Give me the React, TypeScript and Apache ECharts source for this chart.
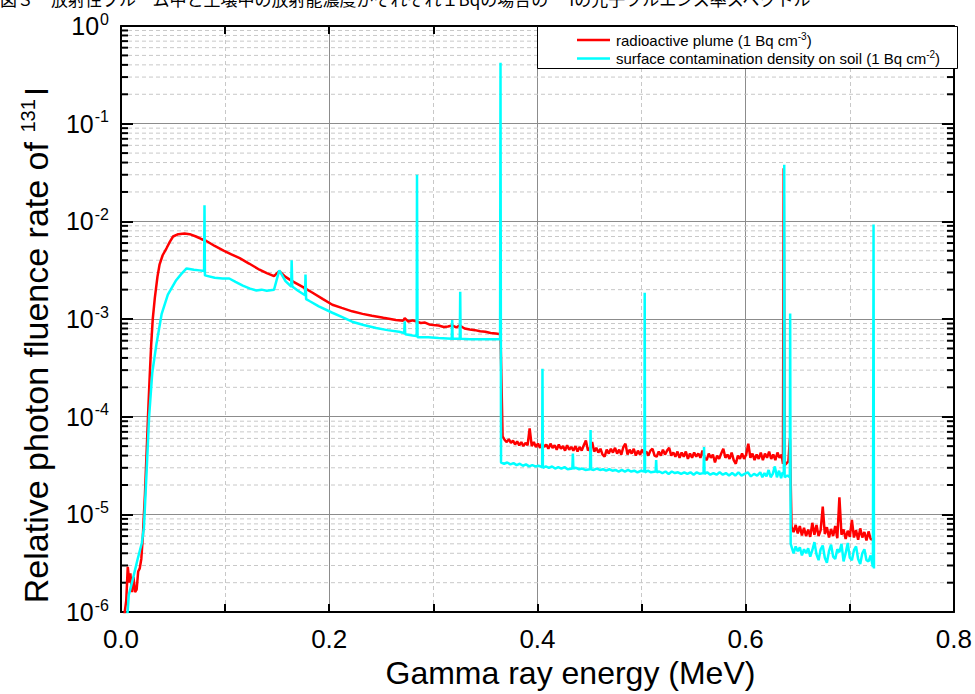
import React, { useEffect, useRef } from 'react';
import * as echarts from 'echarts';

// ---- axis / tick definitions ----
const xMin = 0;
const xMax = 0.8;
const xInterval = 0.2;
const yMin = 1e-6;
const yMax = 1;
const minorMultipliers = [2, 3, 4, 5, 6, 7, 8, 9];
const decadeStarts = [1e-6, 1e-5, 1e-4, 1e-3, 1e-2, 1e-1];

// ---- texts ----
const topCaption = '図３　放射性プルーム中と土壌中の放射能濃度がそれぞれ１Bqの場合の¹³¹Iの光子フルエンス率スペクトル';
const xTitle = 'Gamma ray energy (MeV)';
const yTitle = 'Relative photon fluence rate of {s|131}I';
const legendPlume = 'radioactive plume (1 Bq cm{s|-3})';
const legendSoil = 'surface contamination density on soil (1 Bq cm{s|-2})';

// ---- series: radioactive plume (1 Bq cm-3) ----
const plumeData: [number, number][] = [
  [0.003, 9e-7], [0.005, 1.3e-6], [0.0065, 2.9e-6], [0.008, 2.0e-6], [0.009, 2.5e-6],
  [0.0105, 1.6e-6], [0.012, 2.3e-6], [0.0135, 1.6e-6], [0.015, 1.7e-6], [0.0165, 2.6e-6],
  [0.018, 2.8e-6], [0.0195, 3.5e-6], [0.021, 6.0e-6], [0.022, 1.0e-5], [0.023, 1.6e-5],
  [0.024, 3.0e-5], [0.025, 5.5e-5], [0.026, 1.05e-4], [0.0275, 2.5e-4], [0.029, 5.5e-4],
  [0.0305, 1.0e-3], [0.0325, 1.65e-3], [0.035, 2.7e-3], [0.037, 3.6e-3], [0.040, 4.5e-3],
  [0.0437, 5.3e-3], [0.047, 6.2e-3], [0.050, 7.0e-3], [0.055, 7.4e-3], [0.061, 7.5e-3],
  [0.066, 7.4e-3], [0.072, 7.0e-3], [0.077, 6.6e-3], [0.082, 6.3e-3], [0.090, 5.6e-3],
  [0.099, 5.0e-3], [0.106, 4.6e-3], [0.114, 4.2e-3], [0.123, 3.7e-3], [0.133, 3.2e-3],
  [0.140, 2.95e-3], [0.147, 2.75e-3], [0.152, 3.1e-3], [0.158, 2.7e-3], [0.164, 2.46e-3],
  [0.174, 2.15e-3], [0.184, 1.86e-3], [0.194, 1.6e-3], [0.203, 1.4e-3], [0.212, 1.3e-3],
  [0.222, 1.2e-3], [0.232, 1.13e-3], [0.241, 1.08e-3], [0.252, 1.03e-3], [0.264, 9.8e-4],
  [0.271, 9.6e-4], [0.2725, 1.02e-3], [0.276, 9.4e-4], [0.280, 9.7e-4], [0.284, 9.4e-4],
  [0.288, 9.1e-4], [0.292, 9.2e-4], [0.296, 8.8e-4], [0.300, 8.7e-4], [0.305, 8.6e-4],
  [0.310, 8.3e-4], [0.314, 8.4e-4], [0.318, 8.6e-4], [0.322, 8.2e-4], [0.325, 8.6e-4],
  [0.330, 8.0e-4], [0.335, 7.8e-4], [0.340, 7.7e-4], [0.345, 7.5e-4], [0.350, 7.4e-4],
  [0.355, 7.2e-4], [0.360, 7.1e-4], [0.3645, 7.0e-4],
  [0.3665, 6.3e-5], [0.3685, 5.8e-5], [0.3705, 5.5e-5], [0.3725, 5.9e-5], [0.3745, 5.4e-5],
  [0.3765, 5.7e-5], [0.3785, 5.2e-5], [0.3805, 5.6e-5], [0.3825, 5.1e-5], [0.3845, 5.5e-5],
  [0.3865, 5.0e-5], [0.3885, 5.4e-5], [0.3905, 5.1e-5], [0.3925, 7.6e-5], [0.3945, 5.0e-5],
  [0.3965, 5.5e-5], [0.3985, 4.9e-5], [0.4005, 5.3e-5], [0.4025, 4.8e-5], [0.4045, 5.4e-5],
  [0.4065, 4.9e-5], [0.4085, 5.2e-5], [0.4105, 4.7e-5], [0.4125, 5.3e-5], [0.4145, 4.8e-5],
  [0.4165, 5.1e-5], [0.4185, 4.6e-5], [0.4205, 5.2e-5], [0.4225, 4.7e-5], [0.4245, 5.0e-5],
  [0.4265, 4.5e-5], [0.4285, 5.1e-5], [0.4305, 4.6e-5], [0.4325, 4.9e-5], [0.4345, 4.5e-5],
  [0.4365, 5.0e-5], [0.4385, 4.4e-5], [0.4405, 4.9e-5], [0.4425, 4.5e-5], [0.4445, 5.1e-5],
  [0.4465, 5.7e-5], [0.4485, 4.5e-5], [0.4505, 4.8e-5], [0.4525, 5.5e-5], [0.4545, 4.4e-5],
  [0.4565, 4.8e-5], [0.4585, 4.3e-5], [0.4605, 4.7e-5], [0.4625, 4.1e-5], [0.4645, 3.9e-5],
  [0.4665, 4.6e-5], [0.4685, 4.2e-5], [0.4705, 4.7e-5], [0.4725, 4.3e-5], [0.4745, 4.8e-5],
  [0.4765, 4.2e-5], [0.4785, 4.6e-5], [0.4805, 4.1e-5], [0.4825, 4.9e-5], [0.4845, 5.3e-5],
  [0.4865, 4.1e-5], [0.4885, 4.6e-5], [0.4905, 4.2e-5], [0.4925, 4.7e-5], [0.4945, 4.0e-5],
  [0.4965, 4.5e-5], [0.4985, 4.1e-5], [0.5005, 4.6e-5], [0.5025, 4.2e-5], [0.5045, 4.4e-5],
  [0.5065, 4.0e-5], [0.5085, 4.5e-5], [0.5105, 4.7e-5], [0.5125, 4.0e-5], [0.5145, 3.9e-5],
  [0.5165, 4.4e-5], [0.5185, 4.0e-5], [0.5205, 4.6e-5], [0.5225, 4.1e-5], [0.5245, 4.5e-5],
  [0.5265, 4.8e-5], [0.5285, 4.0e-5], [0.5305, 4.3e-5], [0.5325, 3.9e-5], [0.5345, 4.4e-5],
  [0.5365, 3.8e-5], [0.5385, 4.3e-5], [0.5405, 3.9e-5], [0.5425, 4.4e-5], [0.5445, 3.7e-5],
  [0.5465, 4.2e-5], [0.5485, 3.8e-5], [0.5505, 4.3e-5], [0.5525, 3.9e-5], [0.5545, 4.2e-5],
  [0.5565, 3.8e-5], [0.5585, 4.5e-5], [0.5605, 3.8e-5], [0.5625, 3.6e-5], [0.5645, 4.2e-5],
  [0.5665, 3.8e-5], [0.5685, 4.1e-5], [0.5705, 3.4e-5], [0.5725, 4.0e-5], [0.5745, 3.7e-5],
  [0.5765, 4.2e-5], [0.5785, 4.7e-5], [0.5805, 3.8e-5], [0.5825, 4.1e-5], [0.5845, 3.7e-5],
  [0.5865, 4.3e-5], [0.5885, 3.6e-5], [0.5905, 3.3e-5], [0.5925, 4.0e-5], [0.5945, 3.7e-5],
  [0.5965, 4.2e-5], [0.5985, 3.7e-5], [0.6005, 4.1e-5], [0.6025, 5.3e-5], [0.6045, 3.8e-5],
  [0.6065, 4.2e-5], [0.6085, 3.6e-5], [0.6105, 4.1e-5], [0.6125, 3.7e-5], [0.6145, 4.3e-5],
  [0.6165, 3.6e-5], [0.6185, 4.2e-5], [0.6205, 3.8e-5], [0.6225, 4.4e-5], [0.6245, 3.7e-5],
  [0.6265, 4.1e-5], [0.6285, 3.6e-5], [0.6305, 4.3e-5], [0.6325, 3.8e-5], [0.6345, 4.1e-5],
  [0.6358, 3.3e-5], [0.6365, 3.5e-2], [0.6375, 3.2e-5], [0.641, 3.5e-5], [0.6425, 6.0e-5],
  [0.644, 7.5e-6], [0.646, 6.6e-6], [0.648, 7.8e-6], [0.650, 6.4e-6], [0.652, 7.6e-6],
  [0.654, 6.1e-6], [0.656, 7.3e-6], [0.658, 6.0e-6], [0.660, 7.0e-6], [0.662, 5.9e-6],
  [0.664, 8.2e-6], [0.666, 6.2e-6], [0.668, 7.8e-6], [0.670, 6.0e-6], [0.672, 6.9e-6],
  [0.674, 1.2e-5], [0.676, 6.3e-6], [0.678, 7.4e-6], [0.680, 5.8e-6], [0.682, 7.1e-6],
  [0.684, 6.0e-6], [0.686, 7.6e-6], [0.688, 5.7e-6], [0.690, 1.5e-5], [0.692, 6.2e-6],
  [0.694, 7.0e-6], [0.696, 5.6e-6], [0.698, 6.8e-6], [0.700, 5.9e-6], [0.702, 8.8e-6],
  [0.704, 5.8e-6], [0.706, 6.9e-6], [0.708, 5.5e-6], [0.710, 7.2e-6], [0.712, 5.8e-6],
  [0.714, 6.6e-6], [0.716, 5.4e-6], [0.718, 6.7e-6], [0.720, 5.6e-6], [0.7225, 5.5e-6],
];

// ---- series: surface contamination density on soil (1 Bq cm-2) ----
const soilData: [number, number][] = [
  [0.005, 7e-7], [0.006, 9e-7], [0.0075, 1.5e-6], [0.0115, 2.2e-6], [0.016, 3.5e-6],
  [0.020, 5.1e-6], [0.022, 7.3e-6], [0.023, 1.2e-5], [0.025, 3.4e-5], [0.027, 1.0e-4],
  [0.030, 2.8e-4], [0.034, 5.5e-4], [0.039, 1.12e-3], [0.045, 1.78e-3], [0.053, 2.5e-3],
  [0.058, 2.9e-3], [0.063, 3.3e-3], [0.070, 3.2e-3], [0.0755, 3.15e-3], [0.0798, 3.1e-3],
  [0.0802, 1.46e-2], [0.0806, 2.8e-3], [0.090, 2.65e-3], [0.0975, 2.6e-3], [0.104, 2.6e-3],
  [0.110, 2.4e-3], [0.117, 2.2e-3], [0.124, 2.05e-3], [0.130, 1.96e-3], [0.135, 2.0e-3],
  [0.140, 1.95e-3], [0.147, 2.0e-3], [0.152, 3.15e-3], [0.158, 2.45e-3], [0.1635, 2.15e-3],
  [0.1639, 4.0e-3], [0.1645, 2.15e-3], [0.170, 1.95e-3], [0.1768, 1.75e-3], [0.1772, 2.85e-3],
  [0.1778, 1.6e-3], [0.181, 1.53e-3], [0.190, 1.35e-3], [0.203, 1.16e-3], [0.212, 1.05e-3],
  [0.222, 9.4e-4], [0.233, 8.7e-4], [0.245, 8.1e-4], [0.256, 7.7e-4], [0.267, 7.4e-4],
  [0.272, 7.2e-4], [0.2725, 9.5e-4], [0.273, 7.0e-4], [0.280, 6.8e-4], [0.2840, 6.7e-4],
  [0.2843, 3.0e-2], [0.2848, 6.5e-4], [0.295, 6.5e-4], [0.305, 6.4e-4], [0.3177, 6.3e-4],
  [0.3181, 9.8e-4], [0.3185, 6.3e-4], [0.3254, 6.3e-4], [0.3258, 1.9e-3], [0.3262, 6.3e-4],
  [0.335, 6.2e-4], [0.345, 6.2e-4], [0.355, 6.2e-4], [0.3641, 6.2e-4], [0.3645, 0.42],
  [0.3650, 3.4e-5], [0.368, 3.3e-5], [0.371, 3.4e-5], [0.374, 3.25e-5], [0.377, 3.35e-5],
  [0.380, 3.2e-5], [0.383, 3.3e-5], [0.386, 3.15e-5], [0.389, 3.25e-5], [0.392, 3.1e-5],
  [0.395, 3.2e-5], [0.398, 3.1e-5], [0.401, 3.15e-5], [0.4045, 3.05e-5], [0.4048, 3.1e-4],
  [0.4052, 3.0e-5], [0.408, 3.1e-5], [0.411, 3.0e-5], [0.414, 3.1e-5], [0.417, 2.95e-5],
  [0.420, 3.05e-5], [0.423, 2.95e-5], [0.426, 3.05e-5], [0.429, 2.9e-5], [0.4335, 2.95e-5],
  [0.434, 4.2e-5], [0.4345, 2.95e-5], [0.437, 3.0e-5], [0.440, 2.9e-5], [0.443, 2.95e-5],
  [0.446, 2.85e-5], [0.4505, 2.9e-5], [0.451, 7.3e-5], [0.4515, 2.9e-5], [0.454, 2.85e-5],
  [0.457, 2.95e-5], [0.460, 2.85e-5], [0.463, 2.9e-5], [0.466, 2.8e-5], [0.469, 2.9e-5],
  [0.472, 2.8e-5], [0.475, 2.85e-5], [0.478, 2.75e-5], [0.481, 2.85e-5], [0.484, 2.75e-5],
  [0.487, 2.85e-5], [0.490, 2.75e-5], [0.493, 2.8e-5], [0.496, 2.7e-5], [0.4995, 2.8e-5],
  [0.5027, 2.75e-5], [0.5030, 1.86e-3], [0.5033, 2.7e-5], [0.506, 2.8e-5], [0.509, 2.7e-5],
  [0.5135, 2.75e-5], [0.514, 3.6e-5], [0.5145, 2.7e-5], [0.517, 2.75e-5], [0.520, 2.65e-5],
  [0.523, 2.75e-5], [0.526, 2.6e-5], [0.529, 2.75e-5], [0.532, 2.65e-5], [0.535, 2.7e-5],
  [0.538, 2.6e-5], [0.541, 2.7e-5], [0.544, 2.6e-5], [0.547, 2.7e-5], [0.550, 2.55e-5],
  [0.553, 2.7e-5], [0.556, 2.6e-5], [0.5595, 2.65e-5], [0.560, 4.9e-5], [0.5605, 2.6e-5],
  [0.563, 2.7e-5], [0.566, 2.55e-5], [0.569, 2.65e-5], [0.572, 2.55e-5], [0.575, 2.7e-5],
  [0.578, 2.55e-5], [0.581, 2.65e-5], [0.584, 2.5e-5], [0.587, 2.65e-5], [0.590, 2.5e-5],
  [0.593, 2.7e-5], [0.596, 2.5e-5], [0.599, 2.6e-5], [0.602, 2.7e-5], [0.605, 2.45e-5],
  [0.608, 2.6e-5], [0.611, 2.5e-5], [0.614, 2.7e-5], [0.616, 2.4e-5], [0.618, 2.65e-5],
  [0.620, 2.45e-5], [0.622, 2.85e-5], [0.624, 2.4e-5], [0.626, 2.6e-5], [0.628, 3.1e-5],
  [0.630, 2.4e-5], [0.632, 2.8e-5], [0.634, 2.35e-5], [0.6355, 2.7e-5], [0.6366, 2.6e-5],
  [0.6370, 3.8e-2], [0.6374, 2.4e-5], [0.640, 2.5e-5], [0.6424, 2.4e-5], [0.6427, 1.14e-3],
  [0.6432, 5.0e-6], [0.646, 4.0e-6], [0.648, 4.7e-6], [0.650, 4.2e-6], [0.652, 4.6e-6],
  [0.654, 3.8e-6], [0.656, 4.4e-6], [0.658, 4.0e-6], [0.660, 4.5e-6], [0.662, 3.7e-6],
  [0.664, 4.3e-6], [0.666, 5.2e-6], [0.668, 3.9e-6], [0.670, 3.4e-6], [0.672, 4.4e-6],
  [0.674, 4.8e-6], [0.676, 3.6e-6], [0.678, 3.2e-6], [0.680, 4.2e-6], [0.682, 4.9e-6],
  [0.684, 3.7e-6], [0.686, 3.5e-6], [0.688, 4.4e-6], [0.690, 4.1e-6], [0.692, 5.0e-6],
  [0.694, 3.3e-6], [0.696, 4.0e-6], [0.698, 5.1e-6], [0.700, 3.6e-6], [0.702, 3.4e-6],
  [0.704, 4.3e-6], [0.706, 4.7e-6], [0.708, 3.5e-6], [0.710, 3.1e-6], [0.712, 4.0e-6],
  [0.714, 4.4e-6], [0.716, 3.4e-6], [0.718, 3.3e-6], [0.720, 3.8e-6], [0.7222, 2.9e-6],
  [0.7228, 9.3e-3], [0.7232, 2.8e-6],
];

const RED = '#ff0000';
const CYAN = '#00ffff';
const NARROW = "'Liberation Sans Narrow', 'Arial Narrow', 'Liberation Sans', Arial, sans-serif";
const SANS = "'Liberation Sans', Arial, sans-serif";

export default function App() {
  const ref = useRef<HTMLDivElement>(null);

  useEffect(() => {
    if (!ref.current) return;
    const chart = echarts.init(ref.current, undefined, { renderer: 'svg' });

    const minorVals: [number, number][] = [];
    decadeStarts.forEach((d) => minorMultipliers.forEach((m) => minorVals.push([xMin, d * m])));

    const left = 121;
    const right = 17;
    const top = 26;
    const bottom = 77;

    const option: any = {
      animation: false,
      backgroundColor: '#fff',
      grid: { left, right, top, bottom, containLabel: false },
      xAxis: [
        {
          type: 'value', min: xMin, max: xMax, interval: xInterval, position: 'bottom',
          axisLine: { show: true, onZero: false, lineStyle: { color: '#000', width: 2 } },
          axisTick: { show: true, inside: true, length: 8, lineStyle: { color: '#000', width: 2 } },
          minorTick: { show: true, splitNumber: 2, length: 8, lineStyle: { color: '#000', width: 2 } },
          splitLine: { show: true, lineStyle: { color: '#8c8c8c', width: 1 } },
          minorSplitLine: { show: true, lineStyle: { color: '#c8c8c8', width: 1, type: [4, 3] } },
          axisLabel: {
            show: true, margin: 14, color: '#000', fontSize: 26, fontFamily: NARROW,
            formatter: (v: number) => v.toFixed(1),
          },
          name: xTitle, nameLocation: 'middle', nameGap: 36,
          nameTextStyle: { color: '#000', fontSize: 32, fontFamily: SANS, verticalAlign: 'top', padding: [0, 0, 0, 66] },
        },
        {
          type: 'value', min: xMin, max: xMax, interval: xInterval, position: 'top',
          axisLine: { show: true, onZero: false, lineStyle: { color: '#000', width: 2 } },
          axisTick: { show: true, inside: true, length: 8, lineStyle: { color: '#000', width: 2 } },
          minorTick: { show: true, splitNumber: 2, length: 8, lineStyle: { color: '#000', width: 2 } },
          splitLine: { show: false }, axisLabel: { show: false },
        },
      ],
      yAxis: [
        {
          type: 'log', logBase: 10, min: yMin, max: yMax, splitNumber: 6, position: 'left',
          axisLine: { show: true, onZero: false, lineStyle: { color: '#000', width: 2 } },
          axisTick: { show: true, inside: true, length: 12, lineStyle: { color: '#000', width: 2 } },
          splitLine: { show: true, lineStyle: { color: '#8c8c8c', width: 1 } },
          axisLabel: {
            show: true, margin: 12, color: '#000', fontFamily: NARROW, fontSize: 25,
            formatter: (v: number) => `{b|10}{s|${Math.round(Math.log10(v))}}`,
            rich: {
              b: { fontSize: 25, fontFamily: NARROW, color: '#000', lineHeight: 25 },
              s: { fontSize: 16, fontFamily: NARROW, color: '#000', lineHeight: 16, padding: [0, 0, 14, 1] },
            },
          },
        },
        {
          type: 'log', logBase: 10, min: yMin, max: yMax, splitNumber: 6, position: 'right',
          axisLine: { show: true, onZero: false, lineStyle: { color: '#000', width: 2 } },
          axisTick: { show: true, inside: true, length: 12, lineStyle: { color: '#000', width: 2 } },
          splitLine: { show: false }, axisLabel: { show: false },
        },
      ],
      series: [
        {
          type: 'custom', name: 'minorGrid', silent: true, z: 1,
          xAxisIndex: 0, yAxisIndex: 0, data: minorVals, clip: false,
          renderItem: (_p: any, api: any) => {
            const v = api.value(1);
            const a = api.coord([xMin, v]);
            const b = api.coord([xMax, v]);
            return {
              type: 'group',
              children: [
                { type: 'line', shape: { x1: a[0], y1: a[1], x2: b[0], y2: b[1] },
                  style: { stroke: '#c8c8c8', lineWidth: 1, lineDash: [4, 3] } },
                { type: 'line', shape: { x1: a[0], y1: a[1], x2: a[0] + 7, y2: a[1] },
                  style: { stroke: '#000', lineWidth: 2 } },
                { type: 'line', shape: { x1: b[0] - 7, y1: b[1], x2: b[0], y2: b[1] },
                  style: { stroke: '#000', lineWidth: 2 } },
              ],
            };
          },
        },
        {
          type: 'line', name: 'radioactive plume', data: plumeData, showSymbol: false, symbol: 'none',
          lineStyle: { color: RED, width: 2.5 }, itemStyle: { color: RED }, z: 3, clip: true, silent: true,
        },
        {
          type: 'line', name: 'surface contamination', data: soilData, showSymbol: false, symbol: 'none',
          lineStyle: { color: CYAN, width: 2.5 }, itemStyle: { color: CYAN }, z: 4, clip: true, silent: true,
        },
      ],
      graphic: [
        {
          type: 'text', x: 0, y: 7, z: 10,
          style: { text: topCaption, fontSize: 17, fontFamily: "'Noto Sans CJK JP', sans-serif",
            fill: '#000', align: 'left', verticalAlign: 'bottom' },
        },
        {
          type: 'text', x: 36, y: 345, rotation: Math.PI / 2, z: 10,
          style: {
            text: yTitle, fontSize: 34, fontFamily: SANS, fill: '#000', align: 'center', verticalAlign: 'middle',
            rich: { s: { fontSize: 20, fontFamily: SANS, fill: '#000', padding: [0, 3, 16, 0] } },
          },
        },
        {
          type: 'rect', z: 20, shape: { x: 537.5, y: 26.5, width: 420, height: 42 },
          style: { fill: '#fff', stroke: '#000', lineWidth: 1 },
        },
        { type: 'line', z: 21, shape: { x1: 577, y1: 40, x2: 610, y2: 40 }, style: { stroke: RED, lineWidth: 2.5 } },
        { type: 'line', z: 21, shape: { x1: 577, y1: 58.5, x2: 610, y2: 58.5 }, style: { stroke: CYAN, lineWidth: 2.5 } },
        {
          type: 'text', z: 21, x: 616, y: 40,
          style: { text: legendPlume, fontSize: 15, fontFamily: SANS, fill: '#000', verticalAlign: 'middle',
            rich: { s: { fontSize: 10, fontFamily: SANS, fill: '#000', padding: [0, 0, 8, 0] } } },
        },
        {
          type: 'text', z: 21, x: 616, y: 58.5,
          style: { text: legendSoil, fontSize: 15, fontFamily: SANS, fill: '#000', verticalAlign: 'middle',
            rich: { s: { fontSize: 10, fontFamily: SANS, fill: '#000', padding: [0, 0, 8, 0] } } },
        },
      ],
    };

    chart.setOption(option);
    return () => chart.dispose();
  }, []);

  return (
    <div
      ref={ref}
      style={{ position: 'fixed', left: 0, top: 0, width: 975, height: 694, background: '#fff' }}
    />
  );
}
